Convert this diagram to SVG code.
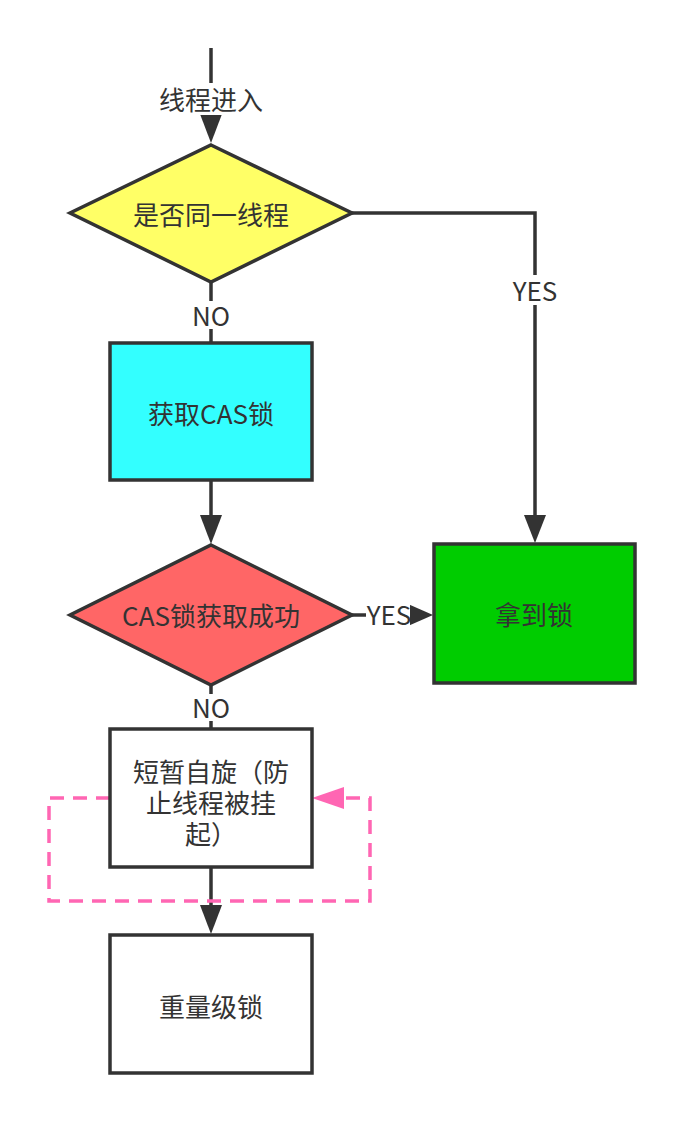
<svg xmlns="http://www.w3.org/2000/svg" width="684" height="1123" viewBox="0 0 684 1123">
  <style>
    .shape { stroke: #333333; stroke-width: 3.5; }
    .edge { fill: none; stroke: #333333; stroke-width: 3.5; }
    .loop { fill: none; stroke: #FF66B3; stroke-width: 3.5; stroke-dasharray: 14 9; }
    .head { fill: #333333; }
    text { font-family: "Noto Sans CJK SC", "Liberation Sans", sans-serif; font-size: 26px; fill: #333333; text-anchor: middle; dominant-baseline: central; }
    .lbl-bg { fill: #FFFFFF; }
  </style>
  <rect x="0" y="0" width="684" height="1123" fill="#FFFFFF"/>

  <!-- connectors -->
  <g id="connectors">
    <!-- entry -->
    <line class="edge" x1="211" y1="48" x2="211" y2="114"/>
    <polygon class="head" points="200,114 222,114 211,143"/>
    <rect class="lbl-bg" x="156" y="83" width="110" height="32"/>
    <text x="211" y="98">线程进入</text>

    <!-- same thread: YES -->
    <polyline class="edge" points="352,213 535,213 535,515"/>
    <polygon class="head" points="524,515 546,515 535,543"/>
    <rect class="lbl-bg" x="511" y="275" width="48" height="30"/>
    <text x="535" y="289">YES</text>

    <!-- same thread: NO -->
    <line class="edge" x1="211" y1="282" x2="211" y2="343"/>
    <rect class="lbl-bg" x="188" y="301" width="46" height="28"/>
    <text x="211" y="314">NO</text>

    <!-- CAS box to CAS decision -->
    <line class="edge" x1="211" y1="480" x2="211" y2="516"/>
    <polygon class="head" points="200,515 222,515 211,544"/>

    <!-- CAS success: YES -->
    <line class="edge" x1="352" y1="615" x2="410" y2="615"/>
    <polygon class="head" points="408,604 408,626 433,615"/>
    <rect class="lbl-bg" x="366" y="600" width="44" height="28"/>
    <text x="389" y="613">YES</text>

    <!-- CAS success: NO -->
    <line class="edge" x1="211" y1="685" x2="211" y2="729"/>
    <rect class="lbl-bg" x="188" y="694" width="46" height="27"/>
    <text x="211" y="706">NO</text>

    <!-- spin box to heavyweight lock -->
    <line class="edge" x1="211" y1="867" x2="211" y2="906"/>
    <polygon class="head" points="200,905 222,905 211,934"/>

    <!-- spin loop -->
    <polyline class="loop" points="110,798 49,798 49,901 370,901 370,798 343,798"/>
    <polygon fill="#FF66B3" points="344,787 344,809 312,798"/>
  </g>

  <g id="node-same-thread">
    <polygon class="shape" fill="#FFFF66" points="211,145 352,213 211,282 70,213"/>
    <text x="211" y="213">是否同一线程</text>
  </g>

  <g id="node-cas">
    <rect class="shape" fill="#33FFFF" x="110" y="343" width="202" height="137"/>
    <text x="211" y="412">获取CAS锁</text>
  </g>

  <g id="node-cas-ok">
    <polygon class="shape" fill="#FF6666" points="211,545 352,615 211,685 70,615"/>
    <text x="211" y="614">CAS锁获取成功</text>
  </g>

  <g id="node-got-lock">
    <rect class="shape" fill="#00CC00" x="434" y="544" width="201" height="139"/>
    <text x="534" y="613">拿到锁</text>
  </g>

  <g id="node-spin">
    <rect class="shape" fill="#FFFFFF" x="110" y="729" width="202" height="138"/>
    <text x="211" y="770">短暂自旋（防<tspan x="211" y="801">止线程被挂</tspan><tspan x="211" y="832">起）</tspan></text>
  </g>

  <g id="node-heavy">
    <rect class="shape" fill="#FFFFFF" x="110" y="935" width="202" height="138"/>
    <text x="211" y="1005">重量级锁</text>
  </g>
</svg>
